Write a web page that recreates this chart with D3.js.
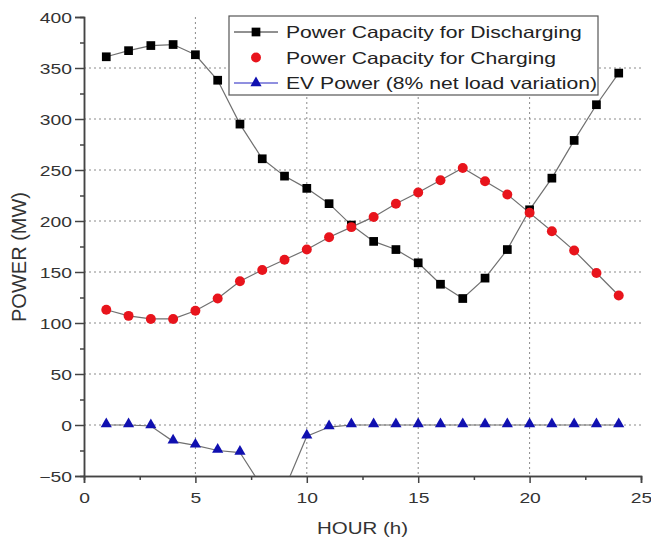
<!DOCTYPE html>
<html>
<head>
<meta charset="utf-8">
<script src="https://cdn.jsdelivr.net/npm/d3@7"></script>
<style>
  body { margin: 0; background: #fff; overflow: hidden; }
  svg { display: block; font-family: "Liberation Sans", Arial, sans-serif; }
</style>
</head>
<body>
<svg width="651" height="539"></svg>
<script>
  const hours = [1, 2, 3, 4, 5, 6, 7, 8, 9, 10, 11, 12, 13, 14, 15, 16, 17, 18, 19, 20, 21, 22, 23, 24];
  const discharging = [361, 367, 372, 373, 363, 338, 295, 261, 244, 232, 217, 196, 180, 172, 159, 138, 124, 144, 172, 211, 242, 279, 314, 345];
  const charging = [113, 107, 104, 104, 112, 124, 141, 152, 162, 172, 184, 194, 204, 217, 228, 240, 252, 239, 226, 208, 190, 171, 149, 127];
  const evPower = [0, 0, -1, -16, -20, -25, -27, -61, -63, -11, -2, 0, 0, 0, 0, 0, 0, 0, 0, 0, 0, 0, 0, 0];

  const xTicks = [0, 5, 10, 15, 20, 25];
  const xMinor = [2.5, 7.5, 12.5, 17.5, 22.5];
  const yTicks = [-50, 0, 50, 100, 150, 200, 250, 300, 350, 400];
  const yMinor = [-25, 25, 75, 125, 175, 225, 275, 325, 375];

  const seriesNames = ['Power Capacity for Discharging', 'Power Capacity for Charging', 'EV Power (8% net load variation)'];

  const svg = d3.select('svg');
  const margin = { top: 17, right: 10, bottom: 63, left: 84 };
  const innerWidth = 641 - margin.left;
  const innerHeight = 476 - margin.top;

  // the original text looks horizontally stretched
  const widen = (sel, k) => sel.each(function () {
    const w = this.getComputedTextLength();
    d3.select(this).attr('textLength', w * k).attr('lengthAdjust', 'spacingAndGlyphs');
  });

  const xScale = d3.scaleLinear().domain([0, 25]).range([0, innerWidth]);
  const yScale = d3.scaleLinear().domain([-50, 400]).range([innerHeight, 0]);

  const g = svg.append('g')
    .attr('transform', `translate(${margin.left},${margin.top})`);

  svg.append('defs').append('clipPath').attr('id', 'plot-clip')
    .append('rect').attr('width', innerWidth).attr('height', innerHeight);

  // grid
  g.selectAll('.hgrid').data(yTicks.filter(d => d > -50 && d < 400))
    .enter().append('line')
      .attr('x1', 0).attr('x2', innerWidth + 3)
      .attr('y1', d => yScale(d)).attr('y2', d => yScale(d))
      .attr('stroke', '#8a8a8a').attr('stroke-width', 1)
      .attr('stroke-dasharray', '2,3');
  g.selectAll('.vgrid').data(xTicks.filter(d => d > 0 && d < 25))
    .enter().append('line')
      .attr('x1', d => xScale(d)).attr('x2', d => xScale(d))
      .attr('y1', 0).attr('y2', innerHeight)
      .attr('stroke', '#8a8a8a').attr('stroke-width', 1)
      .attr('stroke-dasharray', '2,3');

  // axes
  const axisColor = '#444';
  const xAxisG = g.append('g').attr('transform', `translate(0,${innerHeight})`);
  xAxisG.append('g').call(d3.axisBottom(xScale).tickValues(xMinor).tickSize(4).tickFormat(''))
    .selectAll('text').remove();
  xAxisG.append('g').call(d3.axisBottom(xScale).tickValues(xTicks).tickSize(7).tickFormat(d3.format('d')));
  xAxisG.selectAll('path, line').attr('stroke', axisColor).attr('stroke-width', 1.5);
  xAxisG.selectAll('text')
    .attr('y', 27).attr('dy', null)
    .attr('font-size', 14.5).attr('fill', '#333')
    .call(widen, 1.33);

  const yAxisG = g.append('g');
  yAxisG.append('g').call(d3.axisLeft(yScale).tickValues(yMinor).tickSize(4).tickFormat(''))
    .selectAll('text').remove();
  yAxisG.append('g').call(d3.axisLeft(yScale).tickValues(yTicks).tickSize(9).tickFormat(d3.format('d')));
  yAxisG.selectAll('path, line').attr('stroke', axisColor).attr('stroke-width', 1.5);
  yAxisG.selectAll('text')
    .attr('x', -12).attr('dy', '0.35em')
    .attr('font-size', 14.5).attr('fill', '#333')
    .call(widen, 1.33);
  svg.selectAll('.domain').attr('fill', 'none');

  // axis titles
  svg.append('text')
    .attr('x', margin.left + innerWidth / 2).attr('y', 534)
    .attr('text-anchor', 'middle').attr('font-size', 16).attr('fill', '#333')
    .text('HOUR (h)')
    .call(widen, 1.28);
  svg.append('text')
    .attr('transform', 'translate(26,257) rotate(-90)')
    .attr('text-anchor', 'middle').attr('font-size', 20).attr('fill', '#333')
    .text('POWER (MW)');

  // series
  const plot = g.append('g').attr('clip-path', 'url(#plot-clip)');
  const lineOf = values => d3.line()
    .x((d, i) => xScale(hours[i]))
    .y(d => yScale(d))(values);

  [discharging, charging, evPower].forEach(values => {
    plot.append('path')
      .attr('d', lineOf(values))
      .attr('fill', 'none').attr('stroke', '#707070').attr('stroke-width', 1.2);
  });

  const square = d3.symbol().type(d3.symbolSquare).size(76);
  const circle = d3.symbol().type(d3.symbolCircle).size(78);
  const triangle = d3.symbol().type(d3.symbolTriangle).size(54);

  plot.selectAll('.sq').data(discharging).enter().append('path')
    .attr('d', square)
    .attr('transform', (d, i) => `translate(${xScale(hours[i])},${yScale(d)})`)
    .attr('fill', '#000');
  plot.selectAll('.ci').data(charging).enter().append('path')
    .attr('d', circle)
    .attr('transform', (d, i) => `translate(${xScale(hours[i])},${yScale(d)})`)
    .attr('fill', '#e8141c');
  plot.selectAll('.tr').data(evPower).enter().append('path')
    .attr('d', triangle)
    .attr('transform', (d, i) => `translate(${xScale(hours[i])},${yScale(d) - 1})`)
    .attr('fill', '#1010b0');

  // legend
  const legend = svg.append('g').attr('transform', 'translate(229,16)');
  legend.append('rect')
    .attr('width', 369).attr('height', 79)
    .attr('fill', '#fff').attr('stroke', '#555').attr('stroke-width', 1.2);

  const legendItems = [
    { name: seriesNames[0], symbol: square, color: '#000', line: '#222' },
    { name: seriesNames[1], symbol: circle, color: '#e8141c', line: null },
    { name: seriesNames[2], symbol: triangle, color: '#1010b0', line: '#2020c0' }
  ];
  legendItems.forEach((item, i) => {
    const row = legend.append('g').attr('transform', `translate(0,${16 + i * 25.5})`);
    if (item.line) {
      row.append('line').attr('x1', 5).attr('x2', 49).attr('y1', 0).attr('y2', 0)
        .attr('stroke', item.line).attr('stroke-width', 1);
    }
    row.append('path').attr('d', item.symbol)
      .attr('transform', 'translate(27,0)').attr('fill', item.color);
    row.append('text')
      .attr('x', 57).attr('y', 6)
      .attr('font-size', 16.5).attr('fill', '#222')
      .text(item.name)
      .call(widen, 1.28);
  });
</script>
</body>
</html>
